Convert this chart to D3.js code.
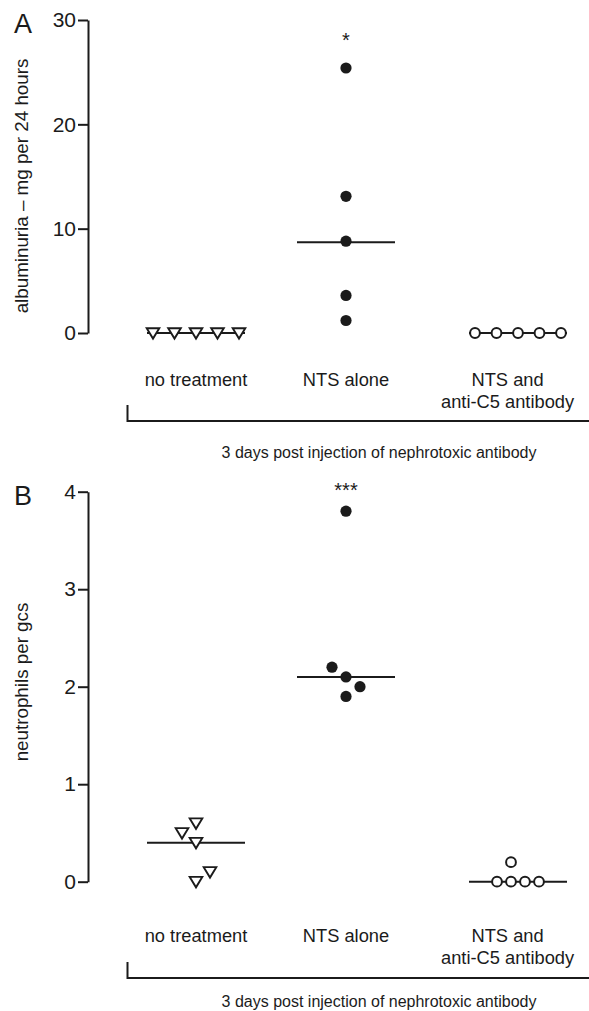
<!DOCTYPE html>
<html>
<head>
<meta charset="utf-8">
<script src="https://cdn.jsdelivr.net/npm/d3@7"></script>
<style>
  body { margin: 0; background: #fff; }
  svg { display: block; font-family: "Liberation Sans", Arial, sans-serif; }
</style>
</head>
<body>
<svg width="589" height="1011"></svg>
<script>
// categories
const groups = ["no treatment", "NTS alone", "NTS and anti-C5 antibody"];
const groupLabels = [["no treatment"], ["NTS alone"], ["NTS and", "anti-C5 antibody"]];
const groupShapes = ["triangle", "dot", "circle"];

// panel A: albuminuria (mg per 24 h)
const albTicks = [0, 10, 20, 30];
const albNoTreat = [0, 0, 0, 0, 0];
const albNTS = [25.4, 13.1, 8.8, 3.6, 1.2];
const albAntiC5 = [0, 0, 0, 0, 0];
const albMedians = [0, 8.7, 0];
const albStars = ["", "*", ""];

// panel B: neutrophils per gcs
const neuTicks = [0, 1, 2, 3, 4];
const neuNoTreat = [0.0, 0.1, 0.4, 0.6, 0.5];
const neuNTS = [2.1, 2.0, 2.2, 1.9, 3.8];
const neuAntiC5 = [0, 0, 0, 0, 0.2];
const neuMedians = [0.4, 2.1, 0];
const neuStars = ["", "***", ""];

const bracketText = "3 days post injection of nephrotoxic antibody";

const W = 589;
const ink = "#1b1b1b";
const svg = d3.select("svg");
svg.append("rect").attr("width", W).attr("height", 1011).attr("fill", "#fff");

const x = d3.scaleOrdinal().domain(groups).range([196, 346, 518]);

// simple dodge: spread points of a group sideways when they would overlap
function dodge(vals, y, step) {
    let placed = [];
    let last = -1;
    vals.forEach(v => {
        let py = y(v), off = null;
        const free = o => placed.every(p => Math.hypot(p.o - o, p.y - py) >= step - 0.5);
        if (free(0)) off = 0;
        for (let k = 1; off === null && k < 10; k++) {
            let sides = [-last, last];
            for (const s of sides) {
                if (free(s * k * step)) { off = s * k * step; last = s; break; }
            }
        }
        placed.push({v: v, o: off, y: py});
    });
    const mid = (d3.min(placed, p => p.o) + d3.max(placed, p => p.o)) / 2;
    placed.forEach(p => p.o -= mid);
    return placed;
}

function drawPanel(opt) {
    const g = svg.append("g");
    const y = d3.scaleLinear().domain(opt.domain).range(opt.range);

    const axis = d3.axisLeft(y).tickValues(opt.ticks).tickSize(10).tickSizeOuter(0)
        .tickPadding(2).tickFormat(d3.format("d"));
    const ax = g.append("g").attr("transform", "translate(88,0)").call(axis);
    ax.select(".domain").attr("stroke", ink).attr("stroke-width", 2);
    ax.selectAll(".tick line").attr("stroke", ink).attr("stroke-width", 2);
    ax.selectAll(".tick text").attr("fill", ink).style("font-size", "21px")
        .style("font-family", "Liberation Sans, Arial, sans-serif");

    // panel letter
    g.append("text").attr("x", 14).attr("y", y(opt.domain[1]) + 13)
        .attr("fill", ink).style("font-size", "27px").text(opt.letter);

    // y axis title
    g.append("text")
        .attr("transform", `translate(28, ${opt.titleY}) rotate(-90)`)
        .attr("text-anchor", "middle").attr("fill", ink).style("font-size", "18.8px")
        .text(opt.title);

    opt.series.forEach((vals, i) => {
        const cx = x(groups[i]);
        const pts = dodge(vals, y, opt.step);
        const half = 49;

        // median line
        g.append("line")
            .attr("x1", cx - half).attr("x2", cx + half)
            .attr("y1", y(opt.medians[i])).attr("y2", y(opt.medians[i]))
            .attr("stroke", ink).attr("stroke-width", 2);

        const shape = groupShapes[i];
        const marks = g.selectAll(null).data(pts).enter();
        if (shape === "dot") {
            marks.append("circle").attr("cx", d => cx + d.o).attr("cy", d => d.y)
                .attr("r", 5.6).attr("fill", ink);
        } else if (shape === "circle") {
            marks.append("circle").attr("cx", d => cx + d.o).attr("cy", d => d.y)
                .attr("r", 4.9).attr("fill", "#fff").attr("stroke", ink).attr("stroke-width", 2);
        } else {
            marks.append("path").attr("d", "M-6.3,-4.8L6.3,-4.8L0,5.6Z")
                .attr("transform", d => `translate(${cx + d.o},${d.y})`)
                .attr("fill", "#fff").attr("stroke", ink).attr("stroke-width", 1.9)
                .attr("stroke-linejoin", "miter");
        }

        if (opt.stars[i]) {
            g.append("text").attr("x", cx).attr("y", y(d3.max(vals)) - opt.starGap)
                .attr("text-anchor", "middle").attr("fill", ink).style("font-size", "20px")
                .text(opt.stars[i]);
        }

        // category label
        const lab = g.append("text").attr("text-anchor", "middle").attr("fill", ink)
            .style("font-size", "18.3px");
        groupLabels[i].forEach((t, j) => {
            lab.append("tspan").attr("x", cx).attr("y", opt.labelY + j * 22).text(t);
        });
        const bb = lab.node().getBBox();
        if (bb.x + bb.width > W - 14) {
            lab.selectAll("tspan").attr("x", cx - (bb.x + bb.width - (W - 14)));
        }
    });

    // bracket
    g.append("path")
        .attr("d", `M127.5,${opt.bracketY - 16}V${opt.bracketY}H${W}`)
        .attr("fill", "none").attr("stroke", ink).attr("stroke-width", 2);
    g.append("text").attr("x", 379).attr("y", opt.bracketTextY)
        .attr("text-anchor", "middle").attr("fill", ink).style("font-size", "16px")
        .text(bracketText);
}

drawPanel({
    letter: "A", domain: [0, 30], range: [333, 20], ticks: albTicks,
    title: "albuminuria \u2013 mg per 24 hours", titleY: 186,
    series: [albNoTreat, albNTS, albAntiC5], medians: albMedians, stars: albStars,
    step: 21.5, starGap: 21, labelY: 386, bracketY: 421, bracketTextY: 458
});

drawPanel({
    letter: "B", domain: [0, 4], range: [881.7, 491.7], ticks: neuTicks,
    title: "neutrophils per gcs", titleY: 682,
    series: [neuNoTreat, neuNTS, neuAntiC5], medians: neuMedians, stars: neuStars,
    step: 14, starGap: 14.5, labelY: 942, bracketY: 978, bracketTextY: 1007
});
</script>
</body>
</html>
